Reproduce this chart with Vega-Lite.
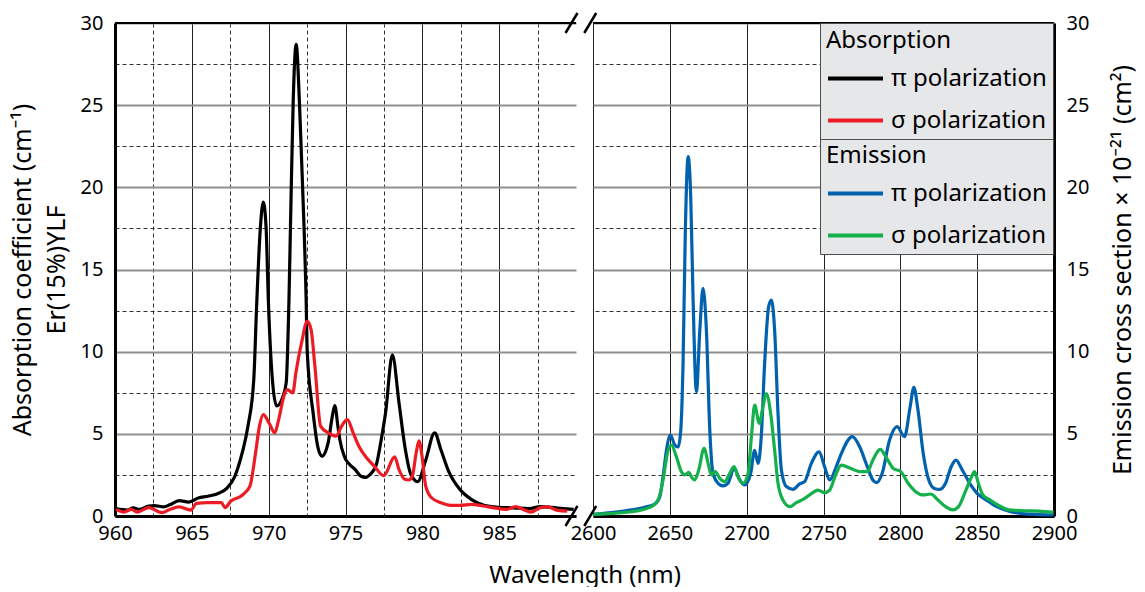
{
  "$schema": "https://vega.github.io/schema/vega-lite/v6.json",
  "background": "white",
  "padding": {"left": 10, "top": 8, "right": 4, "bottom": 0},
  "bounds": "flush",
  "spacing": 17,
  "resolve": {"scale": {"color": "independent", "stroke": "independent"}},
  "config": {
    "font": "Noto Sans",
    "view": {"stroke": null},
    "axis": {
      "labelFont": "Noto Sans", "labelFontSize": 20, "labelColor": "#000",
      "titleFont": "Noto Sans", "titleFontSize": 24, "titleFontWeight": "normal", "titleColor": "#000",
      "ticks": false, "domainColor": "#000", "domainWidth": 3,
      "labelOverlap": false, "labelFlush": false
    },
    "legend": {
      "fillColor": "#e6e7e9", "strokeColor": "#4d4d4d", "padding": 6,
      "titleFont": "Noto Sans", "titleFontSize": 24, "titleFontWeight": "normal", "titleColor": "#000", "titlePadding": -4,
      "labelFont": "Noto Sans", "labelFontSize": 24, "labelColor": "#000", "labelOffset": 6, "labelLimit": 400,
      "symbolType": "stroke", "symbolSize": 3025, "symbolStrokeWidth": 4, "rowPadding": -9
    }
  },
  "datasets": {
    "abs": [
      {"wl":960.07,"v":0.45,"series":"π (absorption)"},{"wl":960.82,"v":0.36,"series":"π (absorption)"},{"wl":961.19,"v":0.5,"series":"π (absorption)"},{"wl":961.57,"v":0.4,"series":"π (absorption)"},{"wl":962.19,"v":0.6,"series":"π (absorption)"},{"wl":962.56,"v":0.63,"series":"π (absorption)"},{"wl":963.18,"v":0.55,"series":"π (absorption)"},{"wl":963.56,"v":0.68,"series":"π (absorption)"},{"wl":964.18,"v":0.93,"series":"π (absorption)"},{"wl":964.8,"v":0.85,"series":"π (absorption)"},{"wl":965.42,"v":1.1,"series":"π (absorption)"},{"wl":966.04,"v":1.2,"series":"π (absorption)"},{"wl":966.79,"v":1.4,"series":"π (absorption)"},{"wl":967.29,"v":1.7,"series":"π (absorption)"},{"wl":967.79,"v":2.4,"series":"π (absorption)"},{"wl":968.28,"v":3.85,"series":"π (absorption)"},{"wl":968.66,"v":5.5,"series":"π (absorption)"},{"wl":969.03,"v":8.3,"series":"π (absorption)"},{"wl":969.23,"v":13.1,"series":"π (absorption)"},{"wl":969.45,"v":17.4,"series":"π (absorption)"},{"wl":969.65,"v":19.1,"series":"π (absorption)"},{"wl":969.83,"v":17.6,"series":"π (absorption)"},{"wl":969.98,"v":13.1,"series":"π (absorption)"},{"wl":970.27,"v":8,"series":"π (absorption)"},{"wl":970.52,"v":6.7,"series":"π (absorption)"},{"wl":970.9,"v":7.2,"series":"π (absorption)"},{"wl":971.14,"v":8.1,"series":"π (absorption)"},{"wl":971.32,"v":13.1,"series":"π (absorption)"},{"wl":971.47,"v":20,"series":"π (absorption)"},{"wl":971.59,"v":25,"series":"π (absorption)"},{"wl":971.79,"v":28.7,"series":"π (absorption)"},{"wl":972.01,"v":25,"series":"π (absorption)"},{"wl":972.21,"v":20,"series":"π (absorption)"},{"wl":972.44,"v":13.1,"series":"π (absorption)"},{"wl":972.51,"v":10,"series":"π (absorption)"},{"wl":972.89,"v":6.3,"series":"π (absorption)"},{"wl":973.2,"v":4.2,"series":"π (absorption)"},{"wl":973.46,"v":3.64,"series":"π (absorption)"},{"wl":973.88,"v":4.5,"series":"π (absorption)"},{"wl":974.13,"v":6.0,"series":"π (absorption)"},{"wl":974.3,"v":6.72,"series":"π (absorption)"},{"wl":974.5,"v":5.5,"series":"π (absorption)"},{"wl":974.63,"v":4.66,"series":"π (absorption)"},{"wl":974.93,"v":3.61,"series":"π (absorption)"},{"wl":975.3,"v":3.1,"series":"π (absorption)"},{"wl":975.62,"v":2.83,"series":"π (absorption)"},{"wl":975.99,"v":2.43,"series":"π (absorption)"},{"wl":976.3,"v":2.35,"series":"π (absorption)"},{"wl":976.67,"v":2.6,"series":"π (absorption)"},{"wl":977.0,"v":3.1,"series":"π (absorption)"},{"wl":977.32,"v":4.63,"series":"π (absorption)"},{"wl":977.61,"v":6.3,"series":"π (absorption)"},{"wl":978.05,"v":9.8,"series":"π (absorption)"},{"wl":978.48,"v":6.9,"series":"π (absorption)"},{"wl":978.86,"v":4.25,"series":"π (absorption)"},{"wl":979.23,"v":2.6,"series":"π (absorption)"},{"wl":979.7,"v":2.09,"series":"π (absorption)"},{"wl":980.22,"v":3.4,"series":"π (absorption)"},{"wl":980.8,"v":5.06,"series":"π (absorption)"},{"wl":981.22,"v":4.0,"series":"π (absorption)"},{"wl":981.72,"v":2.7,"series":"π (absorption)"},{"wl":982.46,"v":1.6,"series":"π (absorption)"},{"wl":983.21,"v":1.0,"series":"π (absorption)"},{"wl":983.96,"v":0.67,"series":"π (absorption)"},{"wl":984.95,"v":0.53,"series":"π (absorption)"},{"wl":985.94,"v":0.5,"series":"π (absorption)"},{"wl":986.94,"v":0.45,"series":"π (absorption)"},{"wl":987.69,"v":0.57,"series":"π (absorption)"},{"wl":988.43,"v":0.52,"series":"π (absorption)"},{"wl":989.18,"v":0.45,"series":"π (absorption)"},{"wl":989.85,"v":0.4,"series":"π (absorption)"},
      {"wl":960.07,"v":0.4,"series":"σ (absorption)"},{"wl":960.57,"v":0.24,"series":"σ (absorption)"},{"wl":961.07,"v":0.4,"series":"σ (absorption)"},{"wl":961.44,"v":0.24,"series":"σ (absorption)"},{"wl":962.19,"v":0.51,"series":"σ (absorption)"},{"wl":963.06,"v":0.2,"series":"σ (absorption)"},{"wl":963.56,"v":0.4,"series":"σ (absorption)"},{"wl":964.18,"v":0.55,"series":"σ (absorption)"},{"wl":964.93,"v":0.36,"series":"σ (absorption)"},{"wl":965.3,"v":0.77,"series":"σ (absorption)"},{"wl":966.04,"v":0.81,"series":"σ (absorption)"},{"wl":966.92,"v":0.81,"series":"σ (absorption)"},{"wl":967.16,"v":0.51,"series":"σ (absorption)"},{"wl":967.54,"v":0.91,"series":"σ (absorption)"},{"wl":968.28,"v":1.26,"series":"σ (absorption)"},{"wl":968.78,"v":1.82,"series":"σ (absorption)"},{"wl":969.15,"v":3.85,"series":"σ (absorption)"},{"wl":969.4,"v":5.47,"series":"σ (absorption)"},{"wl":969.65,"v":6.17,"series":"σ (absorption)"},{"wl":970.02,"v":5.67,"series":"σ (absorption)"},{"wl":970.4,"v":5.06,"series":"σ (absorption)"},{"wl":970.65,"v":5.87,"series":"σ (absorption)"},{"wl":971.02,"v":7.39,"series":"σ (absorption)"},{"wl":971.22,"v":7.69,"series":"σ (absorption)"},{"wl":971.57,"v":7.49,"series":"σ (absorption)"},{"wl":971.77,"v":8.7,"series":"σ (absorption)"},{"wl":972.14,"v":10.53,"series":"σ (absorption)"},{"wl":972.51,"v":11.84,"series":"σ (absorption)"},{"wl":972.76,"v":11.34,"series":"σ (absorption)"},{"wl":973.01,"v":9.1,"series":"σ (absorption)"},{"wl":973.38,"v":5.47,"series":"σ (absorption)"},{"wl":973.88,"v":5.06,"series":"σ (absorption)"},{"wl":974.38,"v":4.86,"series":"σ (absorption)"},{"wl":974.75,"v":5.47,"series":"σ (absorption)"},{"wl":975.12,"v":5.87,"series":"σ (absorption)"},{"wl":975.5,"v":5.06,"series":"σ (absorption)"},{"wl":975.87,"v":4.25,"series":"σ (absorption)"},{"wl":976.37,"v":3.54,"series":"σ (absorption)"},{"wl":976.87,"v":3.04,"series":"σ (absorption)"},{"wl":977.49,"v":2.45,"series":"σ (absorption)"},{"wl":978.2,"v":3.6,"series":"σ (absorption)"},{"wl":978.48,"v":2.83,"series":"σ (absorption)"},{"wl":978.86,"v":2.23,"series":"σ (absorption)"},{"wl":979.1,"v":2.19,"series":"σ (absorption)"},{"wl":979.35,"v":2.43,"series":"σ (absorption)"},{"wl":979.6,"v":3.85,"series":"σ (absorption)"},{"wl":979.78,"v":4.57,"series":"σ (absorption)"},{"wl":979.98,"v":3.64,"series":"σ (absorption)"},{"wl":980.22,"v":1.82,"series":"σ (absorption)"},{"wl":980.6,"v":1.11,"series":"σ (absorption)"},{"wl":981.22,"v":0.81,"series":"σ (absorption)"},{"wl":981.84,"v":0.65,"series":"σ (absorption)"},{"wl":982.46,"v":0.65,"series":"σ (absorption)"},{"wl":983.21,"v":0.71,"series":"σ (absorption)"},{"wl":983.96,"v":0.61,"series":"σ (absorption)"},{"wl":984.7,"v":0.49,"series":"σ (absorption)"},{"wl":985.45,"v":0.4,"series":"σ (absorption)"},{"wl":986.07,"v":0.57,"series":"σ (absorption)"},{"wl":986.57,"v":0.4,"series":"σ (absorption)"},{"wl":987.06,"v":0.24,"series":"σ (absorption)"},{"wl":987.69,"v":0.51,"series":"σ (absorption)"},{"wl":988.18,"v":0.55,"series":"σ (absorption)"},{"wl":988.81,"v":0.34,"series":"σ (absorption)"},{"wl":989.43,"v":0.3,"series":"σ (absorption)"}
    ],
    "em": [
      {"wl":2600.2,"v":0.1,"series":"π (emission)"},{"wl":2612,"v":0.2,"series":"π (emission)"},{"wl":2625,"v":0.37,"series":"π (emission)"},{"wl":2633.7,"v":0.53,"series":"π (emission)"},{"wl":2640.2,"v":0.73,"series":"π (emission)"},{"wl":2643.5,"v":1.18,"series":"π (emission)"},{"wl":2645.6,"v":2.4,"series":"π (emission)"},{"wl":2647.8,"v":4.0,"series":"π (emission)"},{"wl":2650.4,"v":4.93,"series":"π (emission)"},{"wl":2653.2,"v":4.32,"series":"π (emission)"},{"wl":2655.4,"v":4.2,"series":"π (emission)"},{"wl":2657.1,"v":5.2,"series":"π (emission)"},{"wl":2658.6,"v":9.3,"series":"π (emission)"},{"wl":2660.1,"v":17.4,"series":"π (emission)"},{"wl":2661.9,"v":21.87,"series":"π (emission)"},{"wl":2663.6,"v":19.4,"series":"π (emission)"},{"wl":2665.1,"v":13.3,"series":"π (emission)"},{"wl":2667.3,"v":7.57,"series":"π (emission)"},{"wl":2669.5,"v":11.3,"series":"π (emission)"},{"wl":2671.6,"v":13.85,"series":"π (emission)"},{"wl":2673.8,"v":11.3,"series":"π (emission)"},{"wl":2676,"v":5.23,"series":"π (emission)"},{"wl":2678.1,"v":2.6,"series":"π (emission)"},{"wl":2681.4,"v":1.99,"series":"π (emission)"},{"wl":2684.6,"v":1.83,"series":"π (emission)"},{"wl":2687.9,"v":2.0,"series":"π (emission)"},{"wl":2691.8,"v":2.9,"series":"π (emission)"},{"wl":2695.5,"v":2.19,"series":"π (emission)"},{"wl":2698.7,"v":1.89,"series":"π (emission)"},{"wl":2702.6,"v":2.6,"series":"π (emission)"},{"wl":2705.2,"v":4.0,"series":"π (emission)"},{"wl":2707.4,"v":3.2,"series":"π (emission)"},{"wl":2709.5,"v":4.83,"series":"π (emission)"},{"wl":2711.7,"v":9.3,"series":"π (emission)"},{"wl":2714.3,"v":12.74,"series":"π (emission)"},{"wl":2716.1,"v":13.14,"series":"π (emission)"},{"wl":2718.2,"v":11.3,"series":"π (emission)"},{"wl":2720.4,"v":6.25,"series":"π (emission)"},{"wl":2722.6,"v":2.8,"series":"π (emission)"},{"wl":2725.8,"v":1.79,"series":"π (emission)"},{"wl":2730.2,"v":1.62,"series":"π (emission)"},{"wl":2734.5,"v":1.95,"series":"π (emission)"},{"wl":2737.7,"v":2.09,"series":"π (emission)"},{"wl":2742.1,"v":3.2,"series":"π (emission)"},{"wl":2747.1,"v":3.9,"series":"π (emission)"},{"wl":2750.7,"v":3.0,"series":"π (emission)"},{"wl":2754,"v":2.19,"series":"π (emission)"},{"wl":2758.3,"v":3.0,"series":"π (emission)"},{"wl":2761.6,"v":3.8,"series":"π (emission)"},{"wl":2768.8,"v":4.83,"series":"π (emission)"},{"wl":2773.6,"v":4.2,"series":"π (emission)"},{"wl":2778.5,"v":3.0,"series":"π (emission)"},{"wl":2782.1,"v":2.19,"series":"π (emission)"},{"wl":2784.5,"v":2.03,"series":"π (emission)"},{"wl":2788.2,"v":2.6,"series":"π (emission)"},{"wl":2793,"v":4.62,"series":"π (emission)"},{"wl":2797.9,"v":5.44,"series":"π (emission)"},{"wl":2802.7,"v":4.83,"series":"π (emission)"},{"wl":2806.4,"v":6.65,"series":"π (emission)"},{"wl":2808.8,"v":7.83,"series":"π (emission)"},{"wl":2811.2,"v":6.65,"series":"π (emission)"},{"wl":2814.9,"v":3.81,"series":"π (emission)"},{"wl":2818.5,"v":2.19,"series":"π (emission)"},{"wl":2822.1,"v":1.68,"series":"π (emission)"},{"wl":2825.8,"v":1.62,"series":"π (emission)"},{"wl":2829.4,"v":1.99,"series":"π (emission)"},{"wl":2833.1,"v":3.0,"series":"π (emission)"},{"wl":2836.2,"v":3.4,"series":"π (emission)"},{"wl":2840.3,"v":2.8,"series":"π (emission)"},{"wl":2845.2,"v":1.99,"series":"π (emission)"},{"wl":2850,"v":1.38,"series":"π (emission)"},{"wl":2856.1,"v":0.97,"series":"π (emission)"},{"wl":2860.9,"v":0.67,"series":"π (emission)"},{"wl":2868.2,"v":0.37,"series":"π (emission)"},{"wl":2877.9,"v":0.16,"series":"π (emission)"},{"wl":2887.6,"v":0.1,"series":"π (emission)"},{"wl":2899.8,"v":0.06,"series":"π (emission)"},
      {"wl":2600.2,"v":0.1,"series":"σ (emission)"},{"wl":2625,"v":0.26,"series":"σ (emission)"},{"wl":2638,"v":0.57,"series":"σ (emission)"},{"wl":2642.4,"v":0.97,"series":"σ (emission)"},{"wl":2645.6,"v":2.19,"series":"σ (emission)"},{"wl":2648.4,"v":3.8,"series":"σ (emission)"},{"wl":2651,"v":4.32,"series":"σ (emission)"},{"wl":2654.3,"v":3.6,"series":"σ (emission)"},{"wl":2657.5,"v":2.7,"series":"σ (emission)"},{"wl":2659.7,"v":2.5,"series":"σ (emission)"},{"wl":2662.3,"v":2.66,"series":"σ (emission)"},{"wl":2664,"v":2.39,"series":"σ (emission)"},{"wl":2666.2,"v":2.19,"series":"σ (emission)"},{"wl":2668.8,"v":2.8,"series":"σ (emission)"},{"wl":2672.3,"v":4.12,"series":"σ (emission)"},{"wl":2674.9,"v":3.2,"series":"σ (emission)"},{"wl":2677,"v":2.5,"series":"σ (emission)"},{"wl":2679.6,"v":2.7,"series":"σ (emission)"},{"wl":2682.5,"v":2.29,"series":"σ (emission)"},{"wl":2685.7,"v":2.09,"series":"σ (emission)"},{"wl":2689,"v":2.6,"series":"σ (emission)"},{"wl":2691.8,"v":3.0,"series":"σ (emission)"},{"wl":2694.4,"v":2.39,"series":"σ (emission)"},{"wl":2697.6,"v":1.99,"series":"σ (emission)"},{"wl":2700.9,"v":2.6,"series":"σ (emission)"},{"wl":2703.1,"v":4.83,"series":"σ (emission)"},{"wl":2705.2,"v":6.75,"series":"σ (emission)"},{"wl":2708.2,"v":5.64,"series":"σ (emission)"},{"wl":2710.6,"v":6.65,"series":"σ (emission)"},{"wl":2712.8,"v":7.45,"series":"σ (emission)"},{"wl":2715.6,"v":6.25,"series":"σ (emission)"},{"wl":2718.2,"v":4.0,"series":"σ (emission)"},{"wl":2720.4,"v":1.99,"series":"σ (emission)"},{"wl":2723.6,"v":0.97,"series":"σ (emission)"},{"wl":2728,"v":0.57,"series":"σ (emission)"},{"wl":2732.3,"v":0.81,"series":"σ (emission)"},{"wl":2736.7,"v":1.01,"series":"σ (emission)"},{"wl":2741,"v":1.28,"series":"σ (emission)"},{"wl":2746.4,"v":1.58,"series":"σ (emission)"},{"wl":2750.7,"v":1.42,"series":"σ (emission)"},{"wl":2754,"v":1.58,"series":"σ (emission)"},{"wl":2758.3,"v":2.6,"series":"σ (emission)"},{"wl":2761.6,"v":3.1,"series":"σ (emission)"},{"wl":2767.5,"v":2.9,"series":"σ (emission)"},{"wl":2773.6,"v":2.7,"series":"σ (emission)"},{"wl":2778.5,"v":2.7,"series":"σ (emission)"},{"wl":2782.1,"v":3.4,"series":"σ (emission)"},{"wl":2786.9,"v":4.06,"series":"σ (emission)"},{"wl":2790.6,"v":3.6,"series":"σ (emission)"},{"wl":2795.4,"v":2.9,"series":"σ (emission)"},{"wl":2800.3,"v":2.7,"series":"σ (emission)"},{"wl":2805.1,"v":1.99,"series":"σ (emission)"},{"wl":2810,"v":1.48,"series":"σ (emission)"},{"wl":2814.9,"v":1.28,"series":"σ (emission)"},{"wl":2819.7,"v":1.34,"series":"σ (emission)"},{"wl":2824.5,"v":0.97,"series":"σ (emission)"},{"wl":2829.4,"v":0.57,"series":"σ (emission)"},{"wl":2834.3,"v":0.37,"series":"σ (emission)"},{"wl":2837.9,"v":0.57,"series":"σ (emission)"},{"wl":2842.7,"v":1.58,"series":"σ (emission)"},{"wl":2846.4,"v":2.39,"series":"σ (emission)"},{"wl":2848.3,"v":2.7,"series":"σ (emission)"},{"wl":2850.8,"v":1.99,"series":"σ (emission)"},{"wl":2853.7,"v":1.28,"series":"σ (emission)"},{"wl":2858.5,"v":0.97,"series":"σ (emission)"},{"wl":2863.4,"v":0.67,"series":"σ (emission)"},{"wl":2870.7,"v":0.37,"series":"σ (emission)"},{"wl":2880.4,"v":0.32,"series":"σ (emission)"},{"wl":2890.1,"v":0.3,"series":"σ (emission)"},{"wl":2899.8,"v":0.22,"series":"σ (emission)"}
    ],
    "breaks": [
      {"bx": 2586, "by": 30}, {"bx": 2598.2, "by": 30}, {"bx": 2586, "by": 0}, {"bx": 2598.2, "by": 0}
    ]
  },
  "hconcat": [
    {
      "width": 461, "height": 493,
      "layer": [
        {
          "data": {"name": "abs"},
          "mark": {"type": "line", "strokeWidth": 3.2, "interpolate": "monotone", "strokeJoin": "round"},
          "encoding": {
            "x": {
              "field": "wl", "type": "quantitative",
              "scale": {"domain": [960, 990], "nice": false, "zero": false},
              "axis": {
                "values": [960, 962.5, 965, 967.5, 970, 972.5, 975, 977.5, 980, 982.5, 985, 987.5],
                "labelExpr": "datum.value % 5 === 0 ? format(datum.value, 'd') : ''",
                "grid": true,
                "gridColor": {"condition": {"test": "datum.value % 5 !== 0", "value": "#333333"}, "value": "#222222"},
                "gridDash": {"condition": {"test": "datum.value % 5 !== 0", "value": [4, 3]}, "value": []},
                "gridWidth": 1,
                "labelPadding": 7,
                "title": "Wavelength (nm)",
                "titleX": 469.5, "titleY": 66, "titleBaseline": "alphabetic", "titleAlign": "center"
              }
            },
            "y": {
              "field": "v", "type": "quantitative",
              "scale": {"domain": [0, 30], "nice": false},
              "axis": {
                "values": [0, 2.5, 5, 7.5, 10, 12.5, 15, 17.5, 20, 22.5, 25, 27.5, 30],
                "labelExpr": "datum.value % 5 === 0 ? format(datum.value, 'd') : ''",
                "grid": true,
                "gridColor": {"condition": {"test": "datum.value % 5 !== 0", "value": "#333333"}, "value": "#8f8f8f"},
                "gridDash": {"condition": {"test": "datum.value % 5 !== 0", "value": [4, 3]}, "value": []},
                "gridWidth": {"condition": {"test": "datum.value % 5 !== 0", "value": 1}, "value": 1.8},
                "labelPadding": 12,
                "title": ["Absorption coefficient (cm⁻¹)", "Er(15%)YLF"],
                "titleFontSize": 25, "titleLineHeight": 34, "titlePadding": 11
              }
            },
            "color": {
              "field": "series", "type": "nominal",
              "scale": {"domain": ["π (absorption)", "σ (absorption)"], "range": ["#000000", "#ed1c24"]},
              "legend": null
            }
          }
        },
        {
          "data": {"values": [{}]},
          "mark": {"type": "rule", "color": "#000000", "strokeWidth": 2},
          "encoding": {"y": {"datum": 30}}
        }
      ]
    },
    {
      "width": 461, "height": 493,
      "layer": [
        {
          "data": {"name": "em"},
          "mark": {"type": "line", "strokeWidth": 3.2, "interpolate": "monotone", "strokeJoin": "round"},
          "encoding": {
            "x": {
              "field": "wl", "type": "quantitative",
              "scale": {"domain": [2600, 2900], "nice": false, "zero": false},
              "axis": {
                "values": [2600, 2625, 2650, 2675, 2700, 2725, 2750, 2775, 2800, 2825, 2850, 2875, 2900],
                "labelExpr": "datum.value % 50 === 0 ? format(datum.value, 'd') : ''",
                "grid": true,
                "gridColor": {"condition": {"test": "datum.value % 50 !== 0", "value": "#333333"}, "value": "#222222"},
                "gridDash": {"condition": {"test": "datum.value % 50 !== 0", "value": [4, 3]}, "value": []},
                "gridWidth": 1,
                "labelPadding": 7,
                "title": null
              }
            },
            "y": {
              "field": "v", "type": "quantitative",
              "scale": {"domain": [0, 30], "nice": false},
              "axis": {
                "orient": "right",
                "values": [0, 2.5, 5, 7.5, 10, 12.5, 15, 17.5, 20, 22.5, 25, 27.5, 30],
                "labelExpr": "datum.value % 5 === 0 ? format(datum.value, 'd') : ''",
                "grid": true,
                "gridColor": {"condition": {"test": "datum.value % 5 !== 0", "value": "#333333"}, "value": "#8f8f8f"},
                "gridDash": {"condition": {"test": "datum.value % 5 !== 0", "value": [4, 3]}, "value": []},
                "gridWidth": {"condition": {"test": "datum.value % 5 !== 0", "value": 1}, "value": 1.8},
                "labelPadding": 12,
                "title": "Emission cross section × 10⁻²¹ (cm²)",
                "titleFontSize": 25, "titleAngle": 270, "titleBaseline": "top", "titlePadding": 22
              }
            },
            "stroke": {
              "field": "series", "type": "nominal",
              "scale": {"domain": ["π (emission)", "σ (emission)"], "range": ["#0061ae", "#14b04c"]},
              "legend": {
                "title": "Emission", "orient": "none", "legendX": 227, "legendY": 115,
                "labelExpr": "slice(datum.label, 0, 1) + ' polarization'"
              }
            }
          }
        },
        {
          "data": {"name": "abs"},
          "mark": {"type": "line", "strokeWidth": 3.2, "clip": true},
          "encoding": {
            "x": {"field": "wl", "type": "quantitative", "scale": {"domain": [2600, 2900], "nice": false, "zero": false}},
            "y": {"field": "v", "type": "quantitative", "scale": {"domain": [0, 30], "nice": false}},
            "color": {
              "field": "series", "type": "nominal",
              "scale": {"domain": ["π (absorption)", "σ (absorption)"], "range": ["#000000", "#ed1c24"]},
              "legend": {
                "title": "Absorption", "orient": "none", "legendX": 227, "legendY": 0,
                "labelExpr": "slice(datum.label, 0, 1) + ' polarization'"
              }
            }
          }
        },
        {
          "data": {"values": [{}]},
          "mark": {"type": "rule", "color": "#000000", "strokeWidth": 2},
          "encoding": {"y": {"datum": 30}}
        },
        {
          "data": {"name": "breaks"},
          "mark": {"type": "point", "shape": "M-0.6,1L0.6,-1", "size": 400, "filled": false, "color": "#000000", "strokeWidth": 2.5, "opacity": 1},
          "encoding": {
            "x": {"field": "bx", "type": "quantitative"},
            "y": {"field": "by", "type": "quantitative"}
          }
        }
      ]
    }
  ]
}
